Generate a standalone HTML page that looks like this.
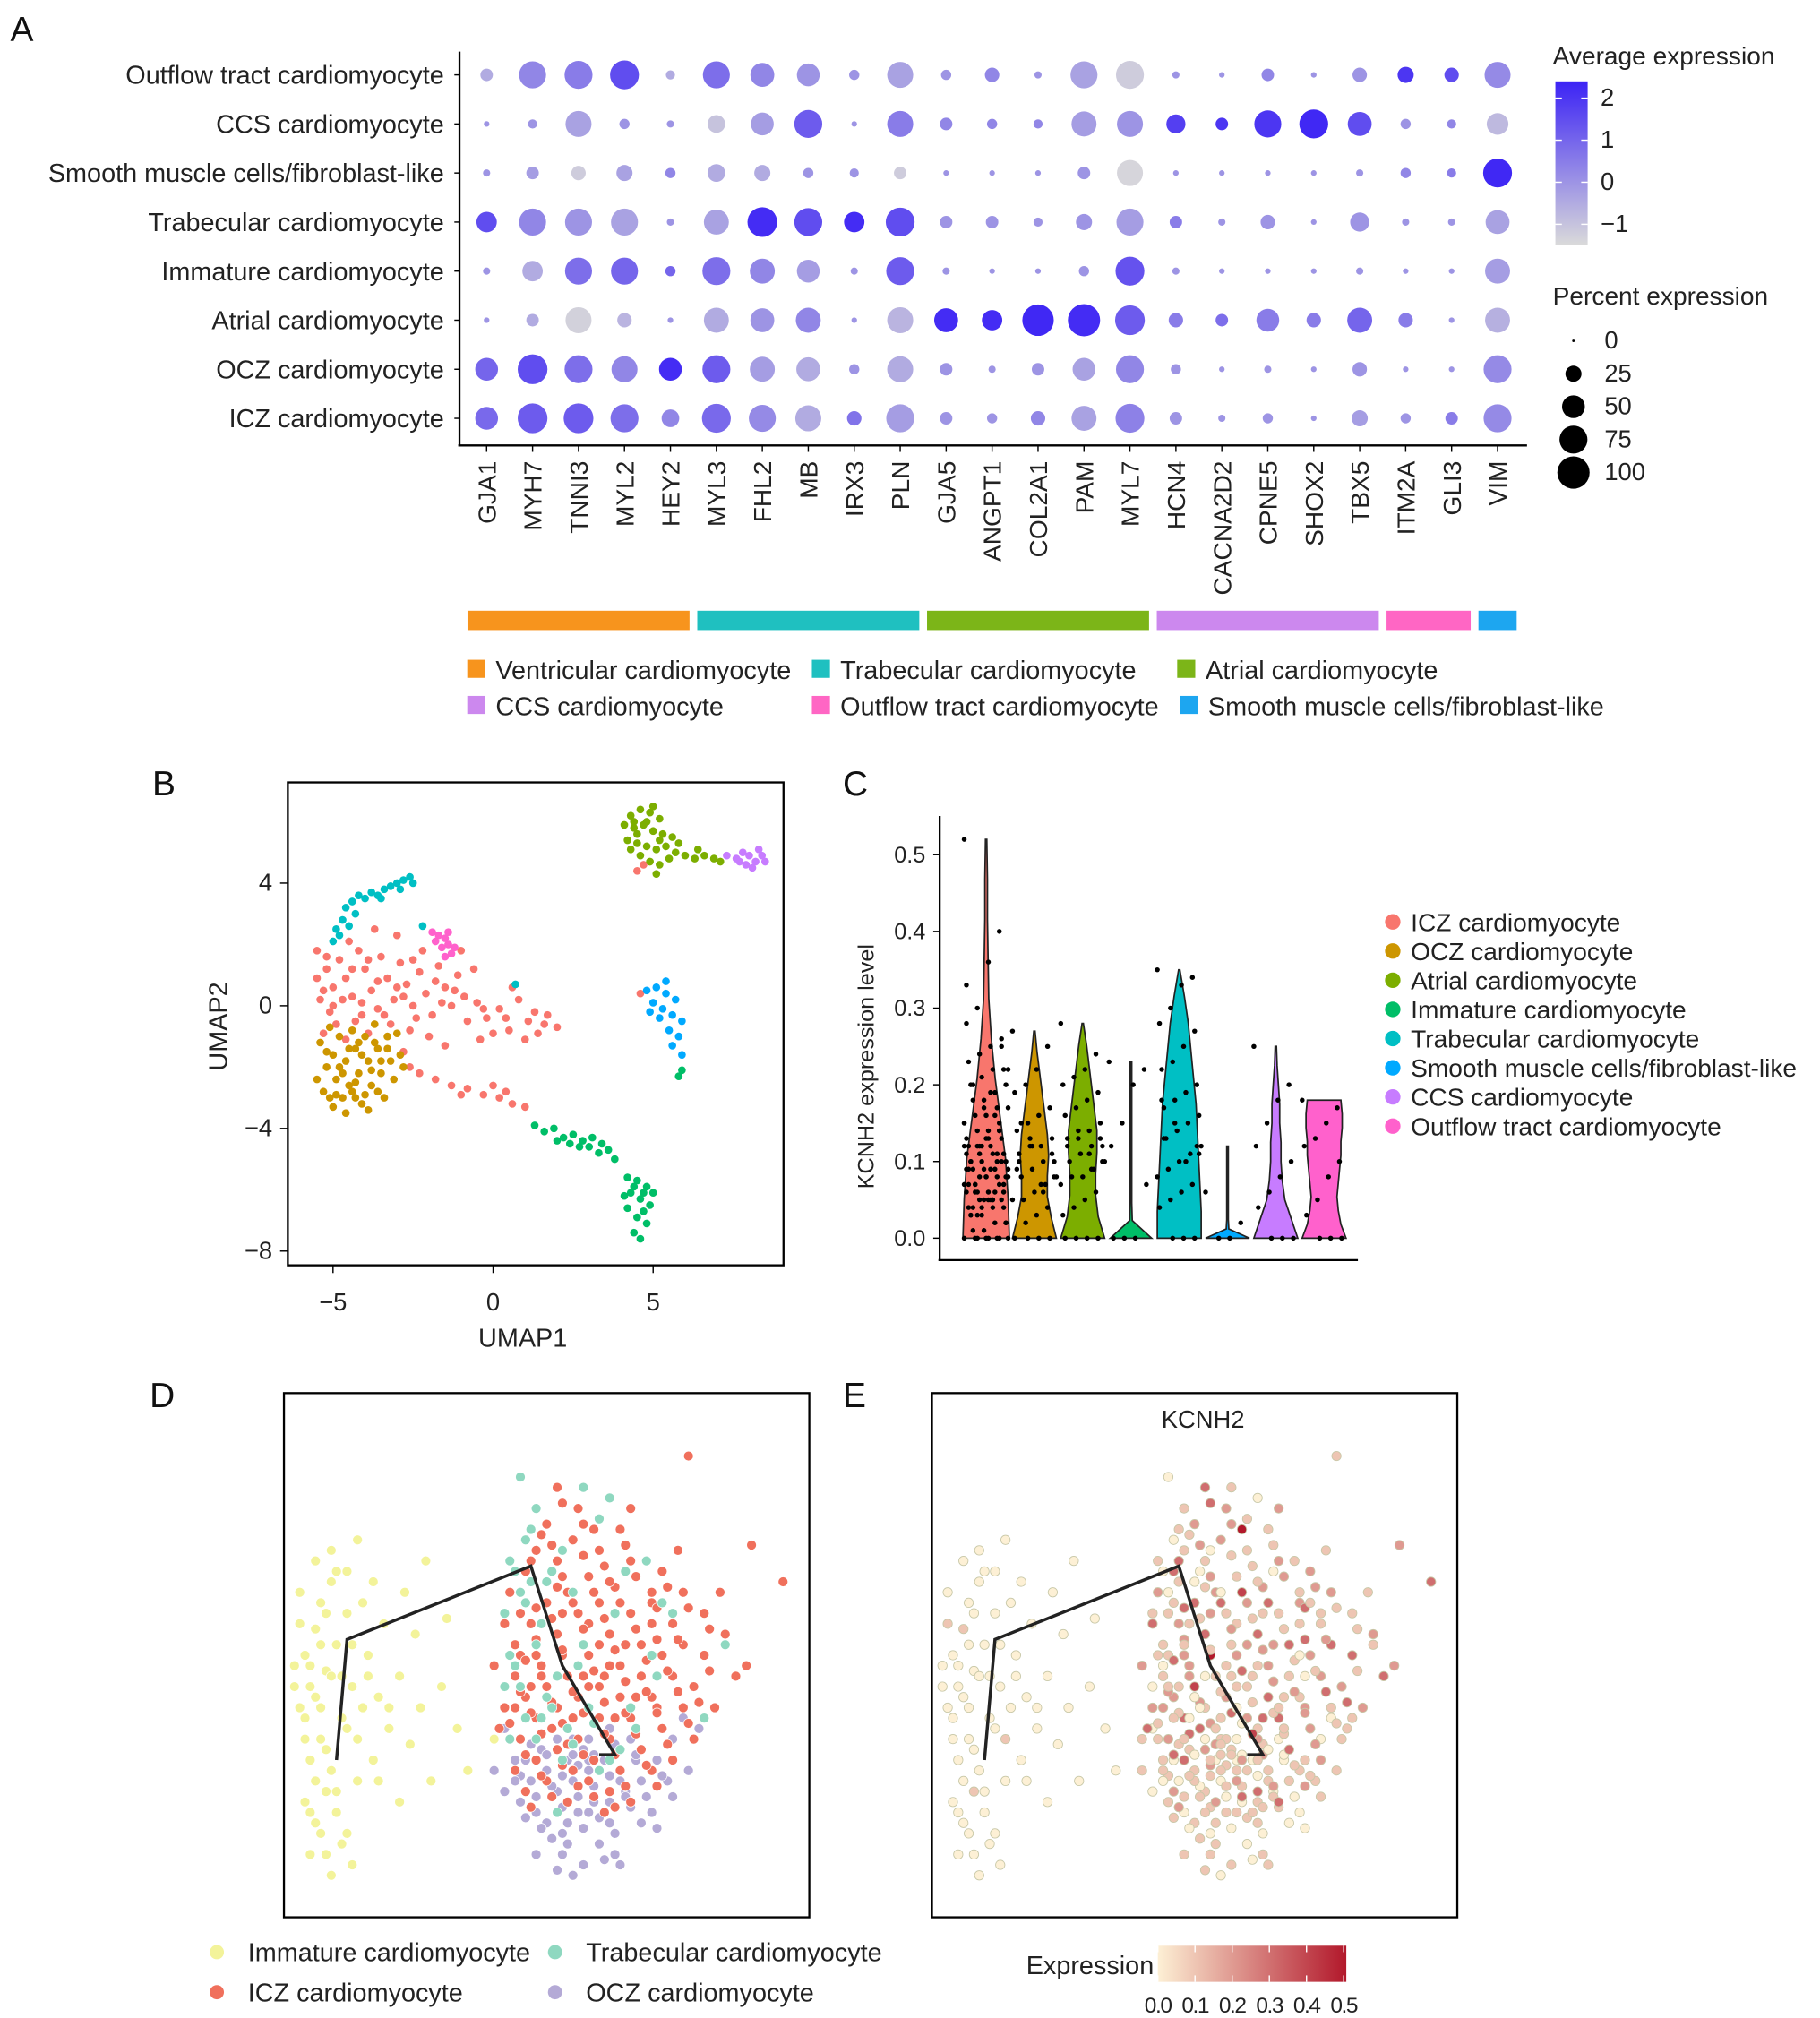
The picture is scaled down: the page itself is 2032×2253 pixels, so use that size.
<!DOCTYPE html>
<html><head><meta charset="utf-8"><style>
html,body{margin:0;padding:0;background:#fff}
svg{display:block;font-family:"Liberation Sans",Arial,sans-serif}
</style></head><body>
<svg id="fig" xmlns="http://www.w3.org/2000/svg" width="2032" height="2253" viewBox="0 0 1410 1563" preserveAspectRatio="none">
<rect width="1410" height="1563" fill="#fff"/>
</svg>
<script>
// ---------- Panel A data ----------
const rowsA = ["Outflow tract cardiomyocyte","CCS cardiomyocyte","Smooth muscle cells/fibroblast-like","Trabecular cardiomyocyte","Immature cardiomyocyte","Atrial cardiomyocyte","OCZ cardiomyocyte","ICZ cardiomyocyte"];
const genesA = ["GJA1","MYH7","TNNI3","MYL2","HEY2","MYL3","FHL2","MB","IRX3","PLN","GJA5","ANGPT1","COL2A1","PAM","MYL7","HCN4","CACNA2D2","CPNE5","SHOX2","TBX5","ITM2A","GLI3","VIM"];
const pctA = [
[15,70,75,80,8,70,55,50,10,65,10,20,5,70,75,5,3,15,3,20,25,20,65],
[3,8,65,10,5,30,50,75,3,65,15,10,8,60,65,35,15,70,80,55,10,8,45],
[5,15,20,25,10,30,25,10,8,15,3,3,3,15,65,3,3,3,3,5,10,8,80],
[40,70,70,70,5,60,85,75,40,80,15,15,8,25,70,15,5,20,3,35,5,5,55],
[5,40,70,70,10,75,60,50,5,75,5,3,3,10,80,5,3,3,3,5,3,3,60],
[3,15,65,20,3,60,55,60,3,65,55,40,95,100,85,20,15,50,20,60,20,3,60],
[50,85,75,65,50,75,60,55,10,65,15,5,15,50,75,10,3,5,3,20,3,3,75],
[50,85,85,75,30,80,70,65,20,75,15,10,20,60,80,15,5,10,3,25,10,15,75]];
const expA = [
[-0.5,0.3,0.5,1.5,-0.5,0.8,0.3,0,0,-0.3,0,0.3,0,-0.3,-1.2,0,0,0.3,0,0,2,1.5,0.2],
[0,0,-0.3,0,0,-1,-0.2,1.2,0,0.5,0.3,0.3,0.3,-0.2,0,1.8,2,2,2.3,1.5,0,0.3,-0.8],
[0,-0.2,-1.2,-0.3,0.3,-0.5,-0.5,0,0,-1.2,0,0,0,0,-1.4,0,0,0,0,0,0.3,0.5,2.3],
[1.5,0.3,0,-0.3,0,-0.3,2.2,1.5,2.2,1.5,0,0,0,0,-0.2,0.5,0,0,0,0,0,0,-0.3],
[0,-0.5,0.8,1,1,0.8,0.3,-0.2,0,1.2,0,0,0,0,1.4,0,0,0,0,0,0,0,-0.2],
[0,-0.5,-1.3,-0.7,0,-0.5,0,0.3,0,-0.7,2.2,2.2,2.3,2.2,1.2,0.5,0.8,0.5,0.5,1,0.5,0,-0.6],
[1,1.5,0.8,0.3,2.2,1.2,-0.2,-0.5,0,-0.5,0,0,0,-0.3,0.3,0,0,0,0,0,0,0,0.2],
[0.9,1.2,1.2,0.8,0.3,0.9,0.2,-0.5,0.7,-0.2,0,0,0.3,-0.3,0.4,0,0,0,0,-0.2,0,0.5,0.2]];
const groupNamesA = ["Ventricular cardiomyocyte","Trabecular cardiomyocyte","Atrial cardiomyocyte","CCS cardiomyocyte","Outflow tract cardiomyocyte","Smooth muscle cells/fibroblast-like"];
const groupSpansA = [[0,4],[5,9],[10,14],[15,19],[20,21],[22,22]];
const expTicks = [2,1,0,-1];
const pctTicks = [0,25,50,75,100];

// ---------- Panel B data (UMAP coordinates) ----------
const umapICZ = "-5.5,1.8 -5.2,1.2 -5,0.6 -5.4,0.2 -5.1,-0.2 -4.8,1.5 -4.6,0.9 -4.4,0.3 -4.2,1.8 -4,1.2 -3.8,0.5 -3.6,-0.1 -3.5,1.6 -3.3,0.9 -3.1,0.2 -2.9,1.4 -2.7,0.7 -2.5,0 -2.3,1.1 -2.1,0.4 -1.9,-0.3 -1.7,1.3 -1.5,0.6 -1.3,0 -1.1,1 -0.9,0.3 -4.9,-0.6 -4.3,-0.5 -3.2,-0.6 -2.6,-0.8 -2,-1 -1.5,-1.3 -0.8,-0.5 -0.5,0.1 -0.2,-0.4 0.2,-0.1 0.5,-0.8 0.8,0.2 1.1,-0.5 1.4,-0.9 1.7,-0.3 2,-0.7 0,-0.9 -0.4,-1.1 1,-1.1 -5.3,-0.9 -4.5,2.1 -3,2.3 -2.2,1.8 -1,1.8 -0.6,1.2 0.6,0.6 -3.9,-0.9 -2.8,-1.5 -2.3,-2.2 -1.8,-2.4 -1.3,-2.6 -0.8,-2.7 -0.3,-2.9 0.2,-3 0.6,-3.2 1,-3.3 -1,-2.9 0,-2.6 0.4,-2.8 -2.6,-2 4.5,4.4 4.7,4.6 4.6,0.4 -3.7,2.5 -4.6,-1.1 -5.5,0.9 -4.1,0.1 -2.4,-0.4 -1.6,0.1 -3.4,-0.3 -5.3,0.5 -4.7,0.2 -3.9,1.5 -2.8,0.3 -1.2,0.5 1.3,-0.2 0.4,-0.4 -5.2,1.6 -4.4,1.2 -3.6,0.8 -2.5,1.5 -1.8,0.8 -0.3,-0.1 1.6,-0.6 -5,0 -4.1,-0.3 -3,0.6";
const umapOCZ = "-5.4,-1.2 -5.2,-2 -5.3,-2.8 -5,-3.3 -5,-1.6 -4.9,-2.4 -4.8,-1 -4.7,-3 -4.6,-1.8 -4.5,-2.6 -4.4,-0.8 -4.3,-1.4 -4.2,-2.2 -4.1,-3.2 -4,-1 -3.9,-1.8 -3.8,-2.6 -3.7,-0.6 -3.6,-1.4 -3.5,-2.2 -3.4,-3 -3.3,-1 -3.2,-1.8 -3.1,-2.4 -3,-0.9 -2.9,-1.6 -2.8,-2 -5.5,-2.4 -4.6,-3.5 -3.9,-3.4 -4.4,-2.8 -3.6,-2.8 -4.8,-2 -4.1,-1.6 -3.3,-1.4 -5.1,-0.7 -4.3,-2.5 -3.8,-2.1 -4.9,-2.9 -4.2,-1.2 -3.5,-1.8 -5.2,-1.5 -4.7,-2.2 -4,-2.9 -3.7,-1.2 -4.5,-1.4 -5.1,-3 -4.3,-3";
const umapAtrial = "4.3,6.2 4.6,6.4 4.9,6.3 5.2,6.1 4.1,5.9 4.4,5.8 4.7,5.9 5,5.7 5.3,5.6 4.2,5.4 4.5,5.3 4.8,5.2 5.1,5.1 5.4,5.2 5.7,5 6,4.9 6.3,4.8 6.6,4.9 6.9,4.8 4.9,4.7 5.2,4.6 5.5,4.8 4.6,4.9 5.8,5.3 4.4,6 5,6.5 5.6,5.5 5.1,4.3 6.4,5.1 7.1,4.7 4.5,5.6 4.8,6 5.2,5.4 4.3,5.1";
const umapImmature = "1.3,-3.9 1.6,-4.1 1.9,-4 2.2,-4.3 2.5,-4.2 2.8,-4.4 3.1,-4.3 3.4,-4.5 3.6,-4.7 2,-4.4 2.7,-4.6 3.3,-4.8 3.8,-5 4.2,-5.6 4.5,-5.7 4.8,-5.9 4.3,-6.1 4.6,-6.3 4.9,-6.5 4.2,-6.6 4.5,-6.9 4.8,-7.1 4.4,-7.4 4.6,-7.6 4.1,-6.2 5,-6.1 4.7,-6.7 5.9,-2.1 5.8,-2.3 3,-4.6 2.4,-4.5 4.4,-5.9 4.7,-6.1";
const umapTrab = "-5,2.1 -4.9,2.5 -4.7,2.8 -4.6,3.2 -4.4,3.4 -4.2,3.6 -4,3.5 -3.8,3.7 -3.6,3.6 -3.4,3.8 -3.2,3.9 -3,4 -2.8,4.1 -2.6,4.2 -2.5,4 -4.8,2.3 -4.3,3 -3.5,3.5 -2.2,2.6 0.7,0.7 -4.5,2.6 -2.9,3.8";
const umapSmooth = "4.8,0.5 5.1,0.6 5.4,0.4 5.7,0.2 5,0.1 5.3,-0.1 5.6,-0.3 5.9,-0.5 5.5,-0.8 5.8,-1 5.6,-1.3 5.9,-1.6 5.2,-0.4 4.9,-0.2 5.4,0.8";
const umapCCS = "7.6,4.8 7.8,5 8,4.9 8.2,4.7 8.4,4.9 7.9,4.6 8.1,4.5 8.3,5.1 7.7,4.7 8.5,4.7 7.3,4.9";
const umapOutflow = "-1.9,2.4 -1.7,2.3 -1.5,2.2 -1.4,2 -1.6,1.9 -1.3,1.7 -1.5,1.6 -1.8,2.1 -1.2,1.9 -1.4,2.4";
const umapXTicks = [-5,0,5];
const umapYTicks = [4,0,-4,-8];

// ---------- Panel C data ----------
const violinNames = ["ICZ cardiomyocyte","OCZ cardiomyocyte","Atrial cardiomyocyte","Immature cardiomyocyte","Trabecular cardiomyocyte","Smooth muscle cells/fibroblast-like","CCS cardiomyocyte","Outflow tract cardiomyocyte"];
const violinColors = ["#f8766d","#cd9600","#7cae00","#00be67","#00bfc4","#00a9ff","#c77cff","#ff61cc"];
const violinMax = [0.52,0.27,0.28,0.23,0.35,0.12,0.25,0.18];
const violinShapes = [
[18,17,15,11,7,4,2,1.5,1,1,0.5],
[17,13,10,10,11,10,8,6,4,2,0.5],
[17,12,10,10,11,11,9,7,5,3,0.5],
[16,1,0.6,0.6,0.6,0.6,0.6,0.6,0.6,0.6,0.6],
[17,17,16,15,14,13,11,9,7,4,0.5],
[17,1,0.6,0.6,0.6,0.6,0.6,0.6,0.6,0.6,0.6],
[17,12,7,5,4,4,3,3,2,1,0.5],
[17,13,11,10,11,12,13,13,14,14,13]];
const violinPoints = [
"0.52 0.40 0.36 0.3 0.28 0.25 0.25 0.24 0.23 0.22 0.22 0.21 0.2 0.2 0.19 0.18 0.18 0.17 0.17 0.16 0.16 0.15 0.15 0.14 0.14 0.13 0.13 0.12 0.12 0.12 0.11 0.11 0.1 0.1 0.1 0.09 0.09 0.09 0.08 0.08 0.08 0.07 0.07 0.07 0.06 0.06 0.06 0.05 0.05 0.05 0.04 0.04 0.04 0.03 0.03 0.02 0.02 0.01 0.01 0 0 0 0 0 0 0 0 0.33 0.26 0.19 0.11 0.09 0.07 0.05 0.12 0.1 0.08 0.06 0.05 0.04 0.09 0.11 0.13 0.07 0.15 0.14 0.13 0.12 0.11 0.1 0.09 0.08 0.07 0.06 0.05 0.04 0.03 0.02 0.16 0.17 0.2 0.22 0.1 0.08 0.06 0.12 0.14 0.05 0.03 0.09",
"0.27 0.25 0.22 0.2 0.19 0.17 0.16 0.15 0.14 0.13 0.12 0.12 0.11 0.1 0.1 0.09 0.08 0.08 0.07 0.06 0.05 0.05 0.04 0.03 0.02 0 0 0 0 0.09 0.11 0.07 0.13 0.1 0.08 0.06 0.12 0.15",
"0.28 0.24 0.22 0.21 0.2 0.19 0.18 0.17 0.16 0.15 0.14 0.13 0.13 0.12 0.12 0.11 0.1 0.1 0.09 0.08 0.08 0.07 0.06 0.05 0.04 0.03 0 0 0 0 0.13 0.11 0.14 0.12 0.1 0.09",
"0.23 0.22 0.2 0.15 0.12 0.07 0 0 0",
"0.35 0.34 0.33 0.3 0.28 0.27 0.25 0.23 0.22 0.2 0.19 0.18 0.17 0.16 0.15 0.14 0.13 0.12 0.11 0.1 0.09 0.08 0.07 0.06 0.05 0.04 0 0 0 0.18 0.12 0.1 0.15 0.13 0.11",
"0.06 0.02 0 0",
"0.25 0.2 0.18 0.15 0.12 0.1 0.08 0.06 0.04 0 0 0",
"0.18 0.17 0.15 0.13 0.12 0.1 0.08 0.05 0.03 0 0 0"];
const violinYTicks = [0,0.1,0.2,0.3,0.4,0.5];

// ---------- Panel D/E data (trajectory components, 0-100 units) ----------
const trajImmature = "3,40 5,44 4,50 6,55 8,47 10,52 7,60 9,64 12,58 5,30 7,34 9,28 11,38 13,44 4,22 6,18 8,24 10,20 12,16 14,26 3,62 6,68 9,70 12,66 15,60 16,50 18,42 14,34 17,30 20,36 22,46 19,56 23,62 25,54 27,68 30,44 33,36 28,26 22,22 35,28 40,34 13,10 8,12 4,34 2,48 11,46 15,40 7,40 24,33 31,57 4,38 6,42 5,48 7,52 9,46 3,56 8,58 10,66 6,26 8,32 10,24 12,36 5,20 7,16 11,14 2,44 13,52 16,46 17,64 20,40 26,40 9,8 5,12 14,72 18,26";
const trajICZ = "50,75 48,70 46,66 52,68 55,72 58,65 54,62 50,60 47,56 44,52 48,50 52,54 56,58 60,60 63,63 66,58 62,54 58,50 54,46 50,44 46,42 44,46 42,40 48,38 52,40 56,42 60,44 64,48 68,52 70,56 72,50 68,46 64,42 60,38 56,34 52,32 48,30 45,34 55,28 62,34 66,38 70,42 74,46 76,40 72,36 68,32 64,28 58,26 50,26 46,24 62,24 70,28 78,44 80,50 74,56 76,62 70,62 66,68 60,70 56,78 52,82 64,74 72,66 80,58 84,54 86,46 82,40 78,34 74,30 66,22 70,60 58,56 53,50 57,46 49,48 45,58 43,62 41,36 44,28 59,30 63,38 67,42 71,40 61,46 65,52 55,38 51,36 47,44 53,58 62,64 59,74 66,78 76,52 83,62 88,48 75,70 95,64 77,88 89,71 61,20 54,22 42,56 40,48 49,73 51,71 47,68 53,65 57,69 59,62 55,60 51,57 48,53 45,50 49,46 53,51 57,55 61,57 64,60 67,55 63,51 59,47 55,43 51,41 47,39 45,43 43,37 49,35 53,37 57,39 61,41 65,45 69,49 71,53 73,47 69,43 65,39 61,35 57,31 53,29 49,27 46,31 56,25 63,31 67,35 71,39 75,43 77,37 73,33 69,29 65,25 59,23 51,23 47,21 63,21 71,25 79,41 81,47 75,53 77,59 71,59 67,65 61,67 57,75 53,79 65,71 73,63 81,55 44,40 46,49 58,44 60,52 52,63 54,33 48,59 62,48";
const trajTrab = "48,78 46,72 43,68 45,62 42,58 47,64 51,66 49,56 44,48 46,38 43,34 50,42 54,36 58,40 53,30 60,28 64,32 67,36 71,46 74,58 69,68 62,80 57,52 52,46 48,34 42,44 80,38 84,52 45,84 52,20 55,62 63,58 47,74 44,66 46,60 50,64 48,52 45,44 51,40 55,33 59,37 62,30 66,40 70,50 72,60 65,66 60,76 56,48 49,38 43,50 53,70 57,82";
const trajOCZ = "50,18 53,16 56,20 59,22 62,18 65,24 68,26 71,30 74,34 52,24 55,26 58,28 61,30 64,26 67,30 57,32 54,30 50,28 47,26 45,22 60,14 63,12 48,20 44,30 70,20 73,26 77,28 66,34 62,36 58,34 55,34 52,34 49,32 46,30 53,12 42,24 40,28 76,38 79,36 42,36 51,15 54,14 57,17 60,19 63,16 66,21 69,23 72,27 53,21 56,23 59,25 62,27 65,23 58,30 55,31 51,25 48,23 46,19 61,11 64,10 49,17 45,27 71,17 74,23 67,31 63,33 59,31 56,29 53,27 50,31 47,33 44,26 57,10 55,8 52,9 48,12 68,18 62,22 58,20 54,18";
const exprImmature = "0001000000000000100000000001000000000000100000000000000100000000000000000000";
const exprICZ = "213121232123122132142123121231213212321231212312123123121212312123212321512123123121213121523121312123212321431212121312312121323121312141213121231212312123121321231212312123123121";
const exprTrab = "1010110101101011010110101011010110101101011010110101";
const exprOCZ = "10101011010101010101010101101010101010101101010110101010110101010101101010110";
const trajPath = "10,30 12,53 47,67 53,48 63,31 60,31";
const exprTicks = [0,0.1,0.2,0.3,0.4,0.5];

// ---------- helpers ----------
const svg = document.getElementById('fig');
const NS = "http://www.w3.org/2000/svg";
function mk(tag, attrs, parent){const e=document.createElementNS(NS,tag);for(const k in attrs)e.setAttribute(k,attrs[k]);(parent||svg).appendChild(e);return e;}
function txt(s, attrs, parent){const e=mk('text',attrs,parent);e.textContent=s;return e;}
function pts(str){return str.trim().split(/\s+/).map(p=>p.split(',').map(Number));}
function lerp(a,b,t){return Math.round(a+(b-a)*t);}

// ---------- Panel letters ----------
[["A",8,32],["B",118,616],["C",653,616],["D",116,1090],["E",653,1090]].forEach(([l,x,y])=>{
  const t=txt(l,{x:x,y:y,'font-size':27,fill:'#111'});
  
  
});

// ---------- Panel A ----------
const gA = mk('g',{});


const ax0=377, axStep=35.6, ay0=58, ayStep=38;
const colX = i=>ax0+i*axStep, rowY=i=>ay0+i*ayStep;
const rScale = p=>12.5*Math.sqrt(p/100);
function expColor(v){const t=Math.max(0,Math.min(1,(v+1.5)/3.9));return `rgb(${lerp(218,60,t)},${lerp(218,35,t)},${lerp(218,245,t)})`;}
let l=mk('line',{x1:356,y1:40,x2:356,y2:345,stroke:'#000','stroke-width':1.6},gA);


l=mk('line',{x1:355,y1:345,x2:1183,y2:345,stroke:'#000','stroke-width':1.6},gA);


rowsA.forEach((r,i)=>{
  const t=txt(r,{x:344,y:rowY(i)+7,'font-size':20,'text-anchor':'end',fill:'#222'},gA);
  
  
  mk('line',{x1:352,y1:rowY(i),x2:356,y2:rowY(i),stroke:'#000'},gA);
});
genesA.forEach((g,j)=>{
  const t=txt(g,{x:0,y:0,'font-size':19.5,'text-anchor':'end',fill:'#222',transform:`translate(${colX(j)+7},${357}) rotate(-90)`},gA);
  
  
  mk('line',{x1:colX(j),y1:345,x2:colX(j),y2:350,stroke:'#000'},gA);
});
rowsA.forEach((r,i)=>genesA.forEach((g,j)=>{
  const c=mk('circle',{cx:colX(j),cy:rowY(i),r:rScale(pctA[i][j]),fill:expColor(expA[i][j])},gA);
  
  
}));
// legends A
let t=txt("Average expression",{x:1203,y:50,'font-size':19.5,fill:'#222'});


const defs=mk('defs',{});
const lg=mk('linearGradient',{id:'gA',x1:0,y1:1,x2:0,y2:0},defs);
mk('stop',{offset:0,'stop-color':expColor(-1.5)},lg);mk('stop',{offset:0.5,'stop-color':expColor(0.45)},lg);mk('stop',{offset:1,'stop-color':expColor(2.4)},lg);
const cbTop=63, cbBot=190, expToY=v=>cbBot-(v+1.5)/3.9*(cbBot-cbTop);
let rr=mk('rect',{x:1205,y:cbTop,width:25,height:cbBot-cbTop,fill:'url(#gA)'});


expTicks.forEach(v=>{
  mk('line',{x1:1205,y1:expToY(v),x2:1210,y2:expToY(v),stroke:'#fff'});
  mk('line',{x1:1225,y1:expToY(v),x2:1230,y2:expToY(v),stroke:'#fff'});
  const tt=txt(v<0?'−'+Math.abs(v):String(v),{x:1240,y:expToY(v)+6,'font-size':19,fill:'#222'});
  
  
});
t=txt("Percent expression",{x:1203,y:236,'font-size':19.5,fill:'#222'});


pctTicks.forEach((p,k)=>{
  const y=264+k*25.5;
  const c=mk('circle',{cx:1219,cy:y,r:Math.max(1,rScale(p)),fill:'#000'});
  
  
  const tt=txt(String(p),{x:1243,y:y+6,'font-size':19,fill:'#222'});
  
  
});
// group bars
const groupColors=["#f7941d","#1fc0c0","#7cb518","#cc88ee","#ff66c4","#1da6f0"];
groupSpansA.forEach((s,k)=>{
  const b=mk('rect',{x:colX(s[0])-axStep/2+3,y:473,width:(s[1]-s[0]+1)*axStep-6,height:15,fill:groupColors[k]});
  
  
});
const glegPos=[[362,519],[629,519],[912,519],[362,547],[629,547],[914,547]];
groupNamesA.forEach((n,k)=>{
  const [x,y]=glegPos[k];
  const s=mk('rect',{x:x,y:y-8,width:14,height:14,fill:groupColors[k]});
  
  
  const tt=txt(n,{x:x+22,y:y+7,'font-size':20,fill:'#222'});
  
  
});

// ---------- Panel B ----------
const gB=mk('g',{});


const ux=v=>382+v*24.8, uy=v=>779-v*23.75;
rr=mk('rect',{x:223,y:606,width:384,height:374,fill:'none',stroke:'#000','stroke-width':1.6},gB);


umapXTicks.forEach(v=>{mk('line',{x1:ux(v),y1:980,x2:ux(v),y2:986,stroke:'#000'},gB);
  const tt=txt(v<0?'−'+Math.abs(v):String(v),{x:ux(v),y:1015,'font-size':19,'text-anchor':'middle',fill:'#222'},gB);
  
  });
umapYTicks.forEach(v=>{mk('line',{x1:217,y1:uy(v),x2:223,y2:uy(v),stroke:'#000'},gB);
  const tt=txt(v<0?'−'+Math.abs(v):String(v),{x:211,y:uy(v)+6,'font-size':19,'text-anchor':'end',fill:'#222'},gB);
  
  });
t=txt("UMAP1",{x:405,y:1043,'font-size':20,'text-anchor':'middle',fill:'#222'},gB);


t=txt("UMAP2",{x:0,y:0,'font-size':20,'text-anchor':'middle',fill:'#222',transform:'translate(176,795) rotate(-90)'},gB);


[[umapICZ,0],[umapOCZ,1],[umapAtrial,2],[umapImmature,3],[umapTrab,4],[umapSmooth,5],[umapCCS,6],[umapOutflow,7]].forEach(([s,k])=>{
  pts(s).forEach(([x,y])=>{
    const c=mk('circle',{cx:ux(x),cy:uy(y),r:3,fill:violinColors[k]},gB);
    
    
  });
});

// ---------- Panel C ----------
const gC=mk('g',{});


const vy=v=>959-v*594, vx=i=>764+i*37.4;
l=mk('line',{x1:728,y1:632,x2:728,y2:976,stroke:'#000','stroke-width':1.6},gC);


l=mk('line',{x1:727,y1:976,x2:1052,y2:976,stroke:'#000','stroke-width':1.6},gC);


violinYTicks.forEach(v=>{mk('line',{x1:723,y1:vy(v),x2:728,y2:vy(v),stroke:'#000'},gC);
  const tt=txt(v.toFixed(1),{x:717,y:vy(v)+6,'font-size':17.5,'text-anchor':'end',fill:'#222'},gC);
  
  });
t=txt("KCNH2 expression level",{x:0,y:0,'font-size':17.5,'text-anchor':'middle',fill:'#222',transform:'translate(677,826) rotate(-90)'},gC);


violinNames.forEach((n,i)=>{
  const sh=violinShapes[i], mx=violinMax[i], cx=vx(i), N=sh.length-1;
  let right=[],left=[];
  sh.forEach((w,k)=>{const y=vy(mx*k/N);right.push(`${cx+w},${y}`);left.unshift(`${cx-w},${y}`);});
  const p=mk('path',{d:`M${cx-sh[0]},${vy(0)} L${right.join(' L')} L${left.join(' L')} Z`,fill:violinColors[i],stroke:'#222','stroke-width':1.2},gC);
  
  
  violinPoints[i].trim().split(/\s+/).map(Number).forEach((v,k)=>{
    const off=(((k*37)%21)-10)/10*17;
    const c=mk('circle',{cx:cx+off,cy:vy(v),r:1.9,fill:'#000'},gC);
    
    
  });
});
violinNames.forEach((n,i)=>{
  const y=715+i*22.6;
  const c=mk('circle',{cx:1079,cy:y-1,r:6,fill:violinColors[i]});
  
  
  const tt=txt(n,{x:1093,y:y+6,'font-size':19.5,fill:'#222'});
  
  
});

// ---------- Panels D & E ----------
function trajPanel(x0, name){
  const g=mk('g',{});
  
  
  const f=mk('rect',{x:x0,y:1079,width:407,height:406,fill:'none',stroke:'#000','stroke-width':1.6},g);
  
  
  return {g, px:u=>x0+u*4.07, py:v=>1485-v*4.06};
}
const D=trajPanel(220,'trajectory-by-celltype');
const dSets=[[trajImmature,'#f3f39a'],[trajOCZ,'#b4aad6'],[trajICZ,'#f0705c'],[trajTrab,'#8fd8c0']];
dSets.forEach(([s,col])=>pts(s).forEach(([u,v])=>{
  const c=mk('circle',{cx:D.px(u),cy:D.py(v),r:3.8,fill:col,stroke:'#fff','stroke-width':0.5},D.g);
  
  
}));
let pl=mk('polyline',{points:pts(trajPath).map(([u,v])=>`${D.px(u)},${D.py(v)}`).join(' '),fill:'none',stroke:'#222','stroke-width':2.4},D.g);



const E=trajPanel(722,'trajectory-by-expression');
t=txt("KCNH2",{x:932,y:1106,'font-size':19,'text-anchor':'middle',fill:'#222'},E.g);


function eColor(v){const tt=Math.max(0,Math.min(1,v/0.5));return `rgb(${lerp(253,178,tt)},${lerp(240,24,tt)},${lerp(213,43,tt)})`;}
[[trajImmature,exprImmature],[trajOCZ,exprOCZ],[trajICZ,exprICZ],[trajTrab,exprTrab]].forEach(([s,ex])=>pts(s).forEach(([u,v],k)=>{
  const val=(ex[k]!==undefined?Number(ex[k]):1)*0.1;
  const c=mk('circle',{cx:E.px(u),cy:E.py(v),r:3.6,fill:eColor(val),stroke:'#c8c8a8','stroke-width':0.6},E.g);
  
  
}));
pl=mk('polyline',{points:pts(trajPath).map(([u,v])=>`${E.px(u)},${E.py(v)}`).join(' '),fill:'none',stroke:'#222','stroke-width':2.4},E.g);



// D legend
[["Immature cardiomyocyte","#f3f39a",168,1512],["Trabecular cardiomyocyte","#8fd8c0",430,1512],["ICZ cardiomyocyte","#f0705c",168,1543],["OCZ cardiomyocyte","#b4aad6",430,1543]].forEach(([n,col,x,y])=>{
  const c=mk('circle',{cx:x,cy:y,r:5.5,fill:col});
  
  
  const tt=txt(n,{x:x+24,y:y+7,'font-size':20,fill:'#222'});
  
  
});
// E colorbar
t=txt("Expression",{x:795,y:1529,'font-size':20,fill:'#222'});


const lg2=mk('linearGradient',{id:'gE',x1:0,y1:0,x2:1,y2:0},defs);
mk('stop',{offset:0,'stop-color':eColor(0)},lg2);mk('stop',{offset:0.5,'stop-color':eColor(0.25)},lg2);mk('stop',{offset:1,'stop-color':eColor(0.5)},lg2);
rr=mk('rect',{x:897,y:1507,width:146,height:28,fill:'url(#gE)'});


const ex=v=>897+v/0.5*144;
exprTicks.forEach(v=>{
  mk('line',{x1:ex(v),y1:1507,x2:ex(v),y2:1512,stroke:'#fff'});
  mk('line',{x1:ex(v),y1:1530,x2:ex(v),y2:1535,stroke:'#fff'});
  const tt=txt(v.toFixed(1),{x:ex(v),y:1559,'font-size':17,'text-anchor':'middle',fill:'#222','letter-spacing':-1});
  
  
});
</script>
</body></html>
